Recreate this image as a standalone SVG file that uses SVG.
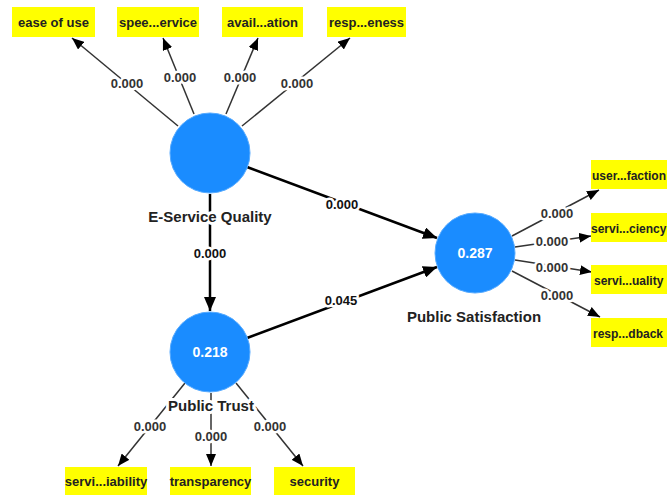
<svg xmlns="http://www.w3.org/2000/svg" width="667" height="497" viewBox="0 0 667 497">
<defs>
<marker id="ah" viewBox="0 0 12 10" refX="12" refY="5" markerWidth="12" markerHeight="10" markerUnits="userSpaceOnUse" orient="auto"><path d="M0,0 L12,5 L0,10 Z" fill="#000"/></marker>
<marker id="ahb" viewBox="0 0 14 12" refX="14" refY="6" markerWidth="14" markerHeight="12" markerUnits="userSpaceOnUse" orient="auto"><path d="M0,0 L14,6 L0,12 Z" fill="#000"/></marker>
</defs>
<style>
.outer{stroke:#333;stroke-width:1.5;fill:none;marker-end:url(#ah)}
.inner{stroke:#000;stroke-width:2.5;fill:none;marker-end:url(#ahb)}
.lbl{font-family:"Liberation Sans",Arial,sans-serif;font-size:13px;font-weight:bold;fill:#333;text-anchor:middle;stroke:#fff;stroke-width:5;paint-order:stroke;stroke-linejoin:round}
.ilbl{font-family:"Liberation Sans",Arial,sans-serif;font-size:13px;font-weight:bold;fill:#111;text-anchor:middle;stroke:#fff;stroke-width:5;paint-order:stroke;stroke-linejoin:round}
.box{fill:#ffff00}
.bt{font-family:"Liberation Sans",Arial,sans-serif;font-size:13px;font-weight:bold;fill:#222}
.bts{font-family:"Liberation Sans",Arial,sans-serif;font-size:12px;font-weight:bold;fill:#222}
.lv{fill:#1a8cff;stroke:#55aaff;stroke-width:1}
.lvv{font-family:"Liberation Sans",Arial,sans-serif;font-size:14px;font-weight:bold;fill:#fff;text-anchor:middle}
.nm{font-family:"Liberation Sans",Arial,sans-serif;font-size:15px;font-weight:bold;fill:#222;text-anchor:middle;stroke:#fff;stroke-width:6;paint-order:stroke;stroke-linejoin:round}
</style>
<g id="connectors">
<line class="outer" x1="178" y1="126" x2="72" y2="38"/>
<line class="outer" x1="194" y1="114" x2="163" y2="38"/>
<line class="outer" x1="226" y1="114" x2="258" y2="38"/>
<line class="outer" x1="242" y1="126" x2="350" y2="38"/>
<line class="outer" x1="512" y1="236" x2="599" y2="190"/>
<line class="outer" x1="515" y1="247" x2="591" y2="236"/>
<line class="outer" x1="515" y1="260" x2="592" y2="272"/>
<line class="outer" x1="512" y1="271" x2="600" y2="317"/>
<line class="outer" x1="185" y1="383" x2="118" y2="466"/>
<line class="outer" x1="211" y1="393" x2="211" y2="466"/>
<line class="outer" x1="236" y1="383" x2="303" y2="466"/>
<line class="inner" x1="247" y1="167" x2="437" y2="238"/>
<line class="inner" x1="247" y1="338" x2="437" y2="267"/>
<line class="inner" x1="210" y1="194" x2="210" y2="311"/>
<text class="lbl" x="127" y="88">0.000</text>
<text class="lbl" x="180" y="82">0.000</text>
<text class="lbl" x="240" y="82">0.000</text>
<text class="lbl" x="297" y="88">0.000</text>
<text class="lbl" x="557" y="218">0.000</text>
<text class="lbl" x="552" y="246">0.000</text>
<text class="lbl" x="552" y="272">0.000</text>
<text class="lbl" x="557" y="300">0.000</text>
<text class="lbl" x="150" y="431">0.000</text>
<text class="lbl" x="211" y="441">0.000</text>
<text class="lbl" x="270" y="431">0.000</text>
<text class="ilbl" x="342" y="209">0.000</text>
<text class="ilbl" x="341" y="305">0.045</text>
<text class="ilbl" x="210" y="258">0.000</text>
</g>
<g id="ease_of_use"><rect class="box" x="12" y="7" width="83" height="30"/><text class="bt" x="53.5" y="27" text-anchor="middle">ease of use</text></g>
<g id="speed_of_service"><rect class="box" x="117" y="7" width="82" height="30"/><text class="bt" x="158" y="27" text-anchor="middle">spee...ervice</text></g>
<g id="availability"><rect class="box" x="222" y="7" width="81" height="30"/><text class="bt" x="262.5" y="27" text-anchor="middle">avail...ation</text></g>
<g id="responsiveness"><rect class="box" x="327" y="7" width="79" height="30"/><text class="bt" x="366.5" y="27" text-anchor="middle">resp...eness</text></g>
<g id="e_service_quality"><circle class="lv" cx="210" cy="153" r="40"/><text class="nm" x="210" y="222">E-Service Quality</text></g>
<g id="public_trust"><circle class="lv" cx="210" cy="352" r="40"/><text class="lvv" x="210" y="357">0.218</text><text class="nm" x="211" y="411">Public Trust</text></g>
<g id="public_satisfaction"><circle class="lv" cx="475" cy="253" r="40"/><text class="lvv" x="475" y="258">0.287</text><text class="nm" x="474" y="322">Public Satisfaction</text></g>
<g id="user_satisfaction"><rect class="box" x="591" y="160" width="90" height="29"/><text class="bts" x="592" y="180">user...faction</text></g>
<g id="service_efficiency"><rect class="box" x="591" y="213" width="90" height="29"/><text class="bts" x="591" y="233">servi...ciency</text></g>
<g id="service_quality"><rect class="box" x="591" y="265" width="90" height="29"/><text class="bts" x="594" y="285">servi...uality</text></g>
<g id="response_feedback"><rect class="box" x="591" y="318" width="90" height="29"/><text class="bts" x="593" y="338">resp...dback</text></g>
<g id="service_reliability"><rect class="box" x="65" y="467" width="82" height="28"/><text class="bt" x="106" y="486" text-anchor="middle">servi...iability</text></g>
<g id="transparency"><rect class="box" x="170" y="467" width="81" height="28"/><text class="bt" x="210.5" y="486" text-anchor="middle">transparency</text></g>
<g id="security"><rect class="box" x="274" y="467" width="81" height="28"/><text class="bt" x="314.5" y="486" text-anchor="middle">security</text></g>
</svg>
